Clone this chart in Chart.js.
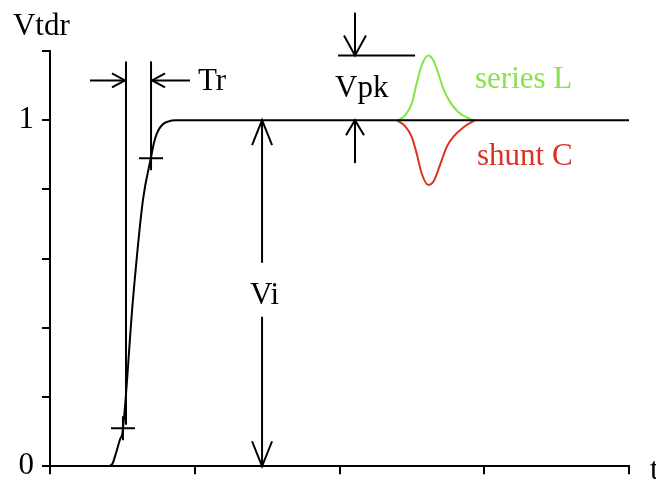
<!DOCTYPE html>
<html>
<head>
<meta charset="utf-8">
<script src="https://cdn.jsdelivr.net/npm/chart.js@4.4.1/dist/chart.umd.min.js"></script>
<style>
  html, body { margin: 0; padding: 0; background: #fff; }
  #wrap { width: 656px; height: 482px; }
</style>
</head>
<body>
<div id="wrap"><canvas id="tdr" width="656" height="482"></canvas></div>
<script>
// step response (t in axis units, V normalised)
const stepT = [0, 0.40, 0.43, 0.45, 0.484, 0.501, 0.573, 0.642, 0.698, 0.718, 0.739, 0.774, 0.815, 0.87, 4];
const stepV = [0, 0, 0.006, 0.03, 0.078, 0.098, 0.481, 0.769, 0.893, 0.934, 0.963, 0.986, 0.996, 1, 1];

// reflection bump for a series L
const seriesLT = [2.406, 2.453, 2.499, 2.533, 2.568, 2.613, 2.648, 2.683, 2.717, 2.763, 2.820, 2.879, 2.924];
const seriesLV = [1.0, 1.014, 1.048, 1.106, 1.159, 1.187, 1.173, 1.135, 1.091, 1.053, 1.024, 1.008, 1.0];

// dip for a shunt C
const shuntCT = [2.395, 2.453, 2.499, 2.533, 2.568, 2.613, 2.648, 2.694, 2.741, 2.786, 2.855, 2.936];
const shuntCV = [1.0, 0.983, 0.952, 0.904, 0.846, 0.813, 0.822, 0.870, 0.923, 0.952, 0.979, 1.0];

// 10% / 90% marks on the edge
const markT = [0.504, 0.698];
const markV = [0.11, 0.89];

const yLabels = { 0: '0', 1: '1' };

const SERIF = "'Liberation Serif', 'DejaVu Serif', serif";
const GREEN = '#86e34a';
const RED   = '#dc3222';

function pts(xs, ys) {
  return xs.map((x, i) => ({ x, y: ys[i] }));
}

function openArrow(ctx, x, y, dx, dy, len, half) {
  const n  = Math.hypot(dx, dy);
  const ux = dx / n, uy = dy / n;
  const bx = x - ux * len, by = y - uy * len;
  ctx.beginPath();
  ctx.moveTo(bx - uy * half, by + ux * half);
  ctx.lineTo(x, y);
  ctx.lineTo(bx + uy * half, by - ux * half);
  ctx.stroke();
}

function seg(ctx, x1, y1, x2, y2) {
  ctx.beginPath();
  ctx.moveTo(x1, y1);
  ctx.lineTo(x2, y2);
  ctx.stroke();
}

// dimension lines, arrows and labels, placed in data units
const notes = {
  id: 'notes',
  afterDraw(chart) {
    const ctx = chart.ctx;
    const xs = chart.scales.x, ys = chart.scales.y;
    const X = v => xs.getPixelForValue(v);
    const Y = v => ys.getPixelForValue(v);

    ctx.save();
    ctx.strokeStyle = '#000';
    ctx.lineWidth = 2;
    ctx.lineCap = 'butt';

    // Tr
    seg(ctx, X(0.525), Y(1.17), X(0.525), Y(0.12));
    seg(ctx, X(0.698), Y(1.17), X(0.698), Y(0.89));
    seg(ctx, X(0.276), Y(1.115), X(0.518), Y(1.115));
    openArrow(ctx, X(0.518), Y(1.115), 1, 0, 13, 7);
    seg(ctx, X(0.967), Y(1.115), X(0.705), Y(1.115));
    openArrow(ctx, X(0.705), Y(1.115), -1, 0, 13, 7);

    // Vi
    seg(ctx, X(1.465), Y(1), X(1.465), Y(0.588));
    seg(ctx, X(1.465), Y(0.432), X(1.465), Y(0));
    openArrow(ctx, X(1.465), Y(1), 0, -1, 25, 10);
    openArrow(ctx, X(1.465), Y(0), 0, 1, 25, 10);

    // Vpk
    seg(ctx, X(2.107), Y(1.311), X(2.107), Y(1.187));
    openArrow(ctx, X(2.107), Y(1.187), 0, 1, 20, 11);
    seg(ctx, X(1.99), Y(1.187), X(2.522), Y(1.187));
    seg(ctx, X(2.107), Y(0.876), X(2.107), Y(1.0));
    openArrow(ctx, X(2.107), Y(1.0), 0, -1, 15, 9);

    // labels
    ctx.textBaseline = 'alphabetic';
    ctx.font = '31px ' + SERIF;
    ctx.fillStyle = '#000';
    ctx.textAlign = 'left';
    ctx.fillText('Vtdr', X(-0.256), Y(1.245));
    ctx.fillText('Tr', X(1.022), Y(1.086));
    ctx.fillText('Vpk', X(1.969), Y(1.066));
    ctx.fillText('t', X(4.145), Y(-0.037));
    ctx.textAlign = 'center';
    ctx.fillText('Vi', X(1.482), Y(0.47));
    ctx.textAlign = 'left';
    ctx.fillStyle = GREEN;
    ctx.fillText('series L', X(2.936), Y(1.092));
    ctx.fillStyle = RED;
    ctx.fillText('shunt C', X(2.95), Y(0.87));
    ctx.restore();
  }
};

new Chart(document.getElementById('tdr'), {
  type: 'line',
  data: {
    datasets: [
      {
        label: 'Vtdr',
        data: pts(stepT, stepV),
        borderColor: '#000',
        borderWidth: 2,
        pointRadius: 0,
        cubicInterpolationMode: 'monotone',
        order: 1,
      },
      {
        label: 'marks',
        data: pts(markT, markV),
        showLine: false,
        pointStyle: 'cross',
        pointRadius: 12,
        borderColor: '#000',
        borderWidth: 2,
        order: 0,
      },
      {
        label: 'series L',
        data: pts(seriesLT, seriesLV),
        borderColor: GREEN,
        borderWidth: 2,
        pointRadius: 0,
        cubicInterpolationMode: 'monotone',
        order: 2,
      },
      {
        label: 'shunt C',
        data: pts(shuntCT, shuntCV),
        borderColor: RED,
        borderWidth: 2,
        pointRadius: 0,
        cubicInterpolationMode: 'monotone',
        order: 3,
      },
    ],
  },
  options: {
    responsive: false,
    animation: false,
    devicePixelRatio: 1,
    layout: { padding: { top: 51, right: 27, left: 0, bottom: 0 } },
    plugins: {
      legend: { display: false },
      tooltip: { enabled: false },
    },
    scales: {
      x: {
        type: 'linear',
        min: 0,
        max: 4,
        afterFit: s => { s.height = 15; },
        border: { display: true, color: '#000', width: 2 },
        grid: { drawOnChartArea: false, drawTicks: true, tickLength: 8, color: '#000', lineWidth: 2 },
        ticks: { stepSize: 1, callback: () => '' },
      },
      y: {
        min: 0,
        max: 1.2,
        afterFit: s => { s.width = 50; },
        border: { display: true, color: '#000', width: 2 },
        grid: { drawOnChartArea: false, drawTicks: true, tickLength: 8, color: '#000', lineWidth: 2 },
        ticks: {
          stepSize: 0.2,
          padding: 8,
          color: '#000',
          font: { family: SERIF, size: 31, lineHeight: 0.5 },
          callback: v => {
            const k = Math.round(v * 10) / 10;
            return yLabels[k] !== undefined ? yLabels[k] : '';
          },
        },
      },
    },
  },
  plugins: [notes],
});
</script>
</body>
</html>
